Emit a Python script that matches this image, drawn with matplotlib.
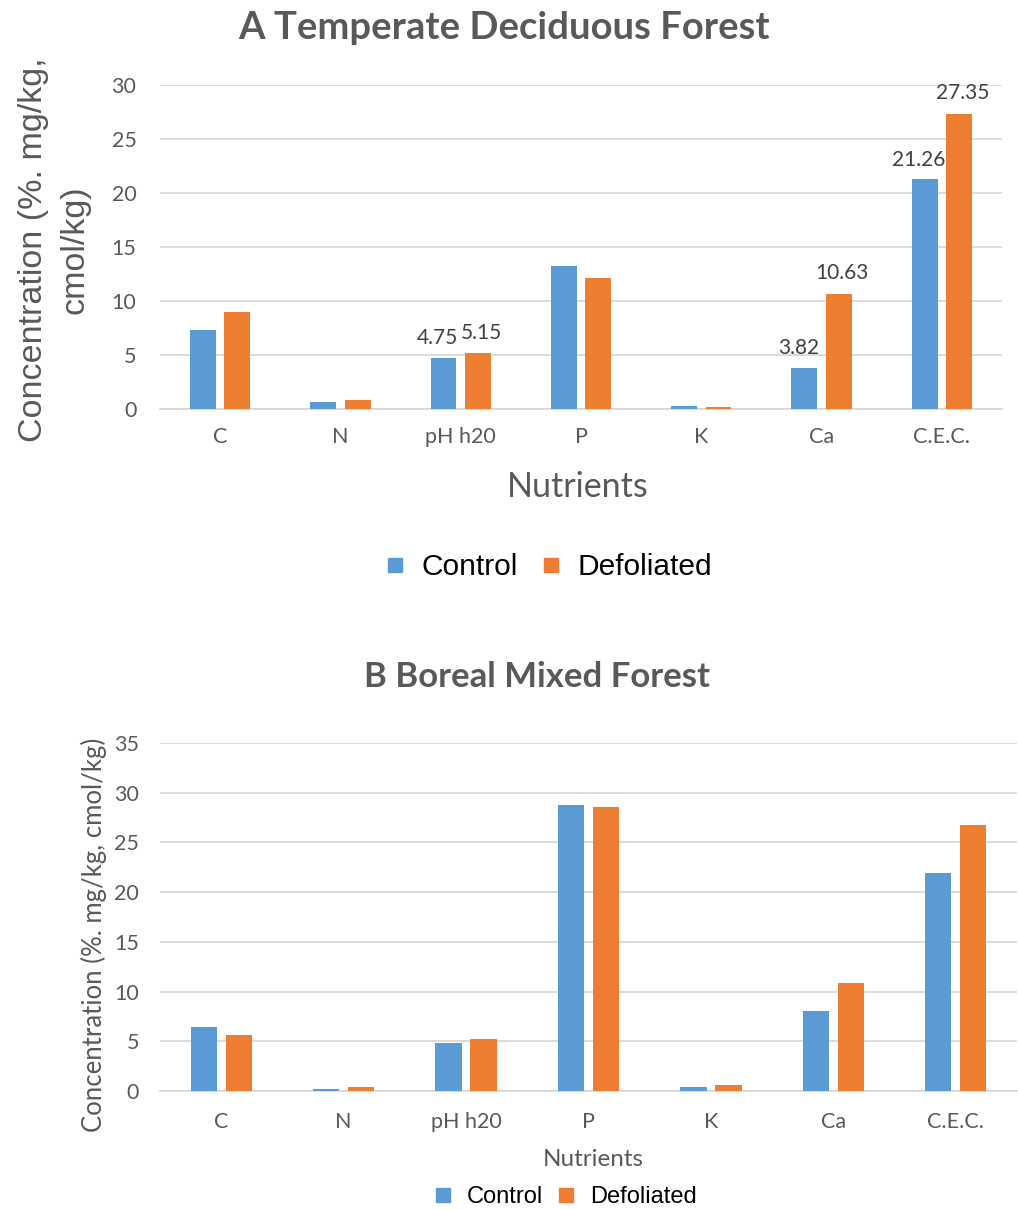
import matplotlib
matplotlib.use("Agg")
import matplotlib.pyplot as plt
from matplotlib.lines import Line2D
import numpy as np

# nutrient data
nutrients = ["C", "N", "pH h20", "P", "K", "Ca", "C.E.C."]

temperate_control = [7.3, 0.62, 4.75, 13.2, 0.25, 3.82, 21.26]
temperate_defol = [8.95, 0.8, 5.15, 12.1, 0.22, 10.63, 27.35]
temperate_labels_control = {2: "4.75", 5: "3.82", 6: "21.26"}
temperate_labels_defol = {2: "5.15", 5: "10.63", 6: "27.35"}

boreal_control = [6.45, 0.2, 4.84, 28.8, 0.37, 8.06, 21.96]
boreal_defol = [5.64, 0.4, 5.24, 28.6, 0.57, 10.88, 26.8]

blue = "#5b9bd5"
orange = "#ed7d31"
grey = "#595959"
gridc = "#d9d9d9"
calibri = ["Lato", "DejaVu Sans"]
arial = ["Liberation Sans", "DejaVu Sans"]

W, H = 1018, 1210
fig = plt.figure(figsize=(W / 100, H / 100), dpi=100)


def fx(px):
    return px / W


def fy(py):
    return 1 - py / H


def panel(rect, ctrl, defo, ymax, tick_fs, xpad, ypad):
    ax = fig.add_axes(rect)
    x = np.arange(len(nutrients))
    w = 0.215
    ax.bar(x - 0.143, ctrl, w, color=blue, zorder=3)
    ax.bar(x + 0.143, defo, w, color=orange, zorder=3)
    ax.set_xlim(-0.5, len(nutrients) - 0.5)
    ax.set_ylim(0, ymax)
    ax.set_yticks(np.arange(0, ymax + 1, 5))
    ax.yaxis.grid(True, color=gridc, linewidth=1.3, zorder=0)
    ax.set_axisbelow(True)
    for s in ["top", "right", "left"]:
        ax.spines[s].set_visible(False)
    ax.spines["bottom"].set_color(gridc)
    ax.spines["bottom"].set_linewidth(1.3)
    ax.tick_params(length=0, colors=grey, labelsize=tick_fs)
    ax.tick_params(axis="x", pad=xpad)
    ax.tick_params(axis="y", pad=ypad)
    ax.set_xticks(x)
    ax.set_xticklabels(nutrients, family=calibri)
    for lab in ax.get_yticklabels():
        lab.set_family(calibri)
    return ax, x


# ---- A ----
axA, x = panel([fx(160), fy(409), fx(842), (409 - 85) / H],
               temperate_control, temperate_defol, 30, 15.5, 13, 17)
for i, t in temperate_labels_control.items():
    axA.text(x[i] - 0.19, temperate_control[i] + 0.9, t, ha="center", va="bottom",
             fontsize=15, color="#404040", family=calibri)
for i, t in temperate_labels_defol.items():
    axA.text(x[i] + 0.17, temperate_defol[i] + 1.0, t, ha="center", va="bottom",
             fontsize=15, color="#404040", family=calibri)
fig.text(fx(504), fy(28), "A Temperate Deciduous Forest", fontsize=27.5,
         fontweight="bold", color=grey, family=calibri, ha="center", va="center")
fig.text(fx(578), fy(487), "Nutrients", fontsize=24.5, color=grey,
         family=calibri, ha="center", va="center")
fig.text(fx(54), fy(250), "Concentration (%. mg/kg,\ncmol/kg)", fontsize=24.5,
         color=grey, family=arial, ha="center", va="center", rotation=90,
         linespacing=1.45)

hand = [Line2D([], [], marker="s", linestyle="", color=blue, markersize=10),
        Line2D([], [], marker="s", linestyle="", color=orange, markersize=10)]
fig.legend(hand, ["Control", "Defoliated"], loc="center", bbox_to_anchor=(fx(546), fy(567)),
           ncol=2, frameon=False, prop={"family": arial, "size": 21.5},
           handletextpad=0.4, columnspacing=0.6, handlelength=1.0)

# ---- B ----
axB, x = panel([fx(160), fy(1091), fx(857), (1091 - 743) / H],
               boreal_control, boreal_defol, 35, 15.5, 15, 15)
fig.text(fx(537), fy(677), "B Boreal Mixed Forest", fontsize=25,
         fontweight="bold", color=grey, family=calibri, ha="center", va="center")
fig.text(fx(593), fy(1160), "Nutrients", fontsize=17.5, color=grey,
         family=calibri, ha="center", va="center")
fig.text(fx(94), fy(935), "Concentration (%. mg/kg, cmol/kg)", fontsize=18.5,
         color=grey, family=calibri, ha="center", va="center", rotation=90)
fig.legend(hand, ["Control", "Defoliated"], loc="center", bbox_to_anchor=(fx(564), fy(1197)),
           ncol=2, frameon=False, prop={"family": arial, "size": 17},
           handletextpad=0.5, columnspacing=0.5, handlelength=1.0)

fig.savefig("out.png", dpi=100)
